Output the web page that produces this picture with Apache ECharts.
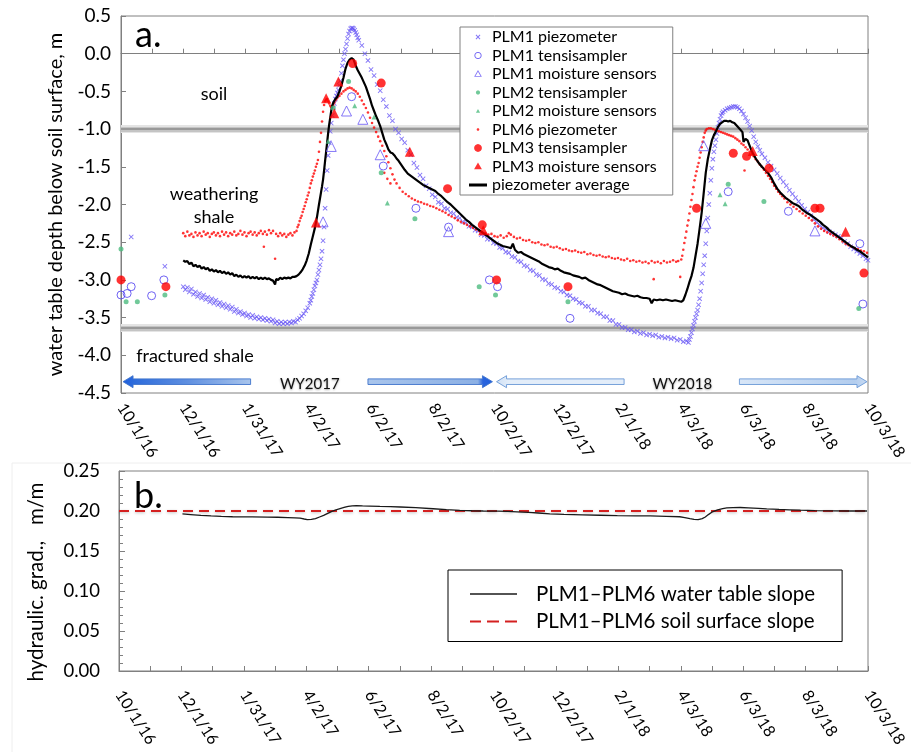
<!DOCTYPE html>
<html><head><meta charset="utf-8">
<script src="https://cdn.jsdelivr.net/npm/echarts@6/dist/echarts.min.js"></script>
<style>html,body{margin:0;padding:0;background:#fff;}#c{width:911px;height:752px;}</style>
</head><body><div id="c"></div>
<script>
// x values are days since 10/1/16
const xTickLabels = ['10/1/16','12/1/16','1/31/17','4/2/17','6/2/17','8/2/17','10/2/17','12/2/17','2/1/18','4/3/18','6/3/18','8/3/18','10/3/18'];
const layerBoundaries = [-1.0, -3.64];
const layerNames = ['soil','weathering','shale','fractured shale'];
const waterYears = ['WY2017','WY2018'];

const plm1Piezometer = [
[10,-2.43],[43,-2.82],
[61,-3.09],[63,-3.13],[65,-3.10],[67,-3.16],[69,-3.12],[71,-3.19],[73,-3.16],[75,-3.22],[77,-3.18],[79,-3.24],[81,-3.20],[83,-3.26],[85,-3.23],[87,-3.29],[89,-3.25],[91,-3.31],[93,-3.27],[95,-3.33],[97,-3.30],[99,-3.35],[101,-3.32],[103,-3.37],[105,-3.34],[107,-3.39],[109,-3.36],[111,-3.42],[113,-3.39],[115,-3.44],[117,-3.42],[119,-3.46],[121,-3.44],[123,-3.48],[125,-3.46],[127,-3.50],[129,-3.47],[131,-3.51],[133,-3.49],[135,-3.52],[137,-3.50],[139,-3.53],[141,-3.51],[143,-3.54],[145,-3.52],[147,-3.55],[149,-3.53],[151,-3.57],[153,-3.55],[155,-3.58],[157,-3.56],[159,-3.58],[161,-3.56],[163,-3.58],[165,-3.56],[167,-3.57],[169,-3.55],[171,-3.56],[173,-3.53],[175,-3.51],[177,-3.48],[179,-3.45],[181,-3.41],[183,-3.37],[185,-3.31],
[186,-3.27],[187,-3.22],[188,-3.18],[189,-3.13],[190,-3.08],[191,-3.04],[192,-3.00],[193,-2.93],[194,-2.87],[195,-2.80],[196,-2.72],[197,-2.62],[198,-2.48],[199,-2.30],[200,-2.05],[201,-1.80],[202,-1.55],[203,-1.35],[204,-1.18],[205,-1.03],[206,-0.92],[207,-0.82],[208,-0.72],[209,-0.66],[210,-0.60],[211,-0.56],[212,-0.52],[213,-0.48],[214,-0.42],[215,-0.36],[216,-0.26],[217,-0.16],[218,-0.08],[219,0.00],[220,0.06],[221,0.13],[222,0.20],[223,0.26],[224,0.30],[225,0.33],[226,0.34],[227,0.34],[228,0.33],[229,0.31],[230,0.28],[231,0.25],[232,0.21],
[233,0.18],[236,0.11],[239,0.00],[242,-0.09],[245,-0.21],[248,-0.29],[251,-0.41],[254,-0.49],[257,-0.61],[260,-0.70],[263,-0.82],[266,-0.89],[269,-1.00],[272,-1.05],[275,-1.13],[278,-1.18],[281,-1.28],[284,-1.34],[287,-1.45],[290,-1.51],[293,-1.61],[296,-1.66],[299,-1.75],[302,-1.79],[305,-1.87],[308,-1.90],[311,-1.97],[314,-1.99],[317,-2.05],[320,-2.06],[323,-2.11],[326,-2.12],[329,-2.17],[332,-2.18],[335,-2.23],[338,-2.24],[341,-2.29],[344,-2.30],[347,-2.34],[350,-2.35],[353,-2.40],[356,-2.41],[359,-2.46],[362,-2.46],[365,-2.51],[368,-2.52],[371,-2.57],[374,-2.58],[377,-2.63],[380,-2.64],[383,-2.69],[386,-2.70],[389,-2.75],[392,-2.76],[395,-2.81],[398,-2.82],[401,-2.87],[404,-2.88],[407,-2.93],[410,-2.94],[413,-2.99],[416,-3.00],[419,-3.05],[422,-3.06],[425,-3.10],[428,-3.11],[431,-3.15],[434,-3.16],[437,-3.20],[440,-3.21],[443,-3.25],[446,-3.26],[449,-3.30],[452,-3.31],[455,-3.35],[458,-3.35],[461,-3.40],[464,-3.40],[467,-3.44],[470,-3.45],[473,-3.49],[476,-3.49],[479,-3.54],[482,-3.54],[485,-3.59],[488,-3.59],[491,-3.63],[494,-3.63],[497,-3.66],[500,-3.66],[503,-3.69],[506,-3.68],[509,-3.71],[512,-3.70],[515,-3.73],[518,-3.72],[521,-3.74],[524,-3.73],[527,-3.76],[530,-3.75],[533,-3.77],[536,-3.76],[539,-3.78],[542,-3.77],[545,-3.80],[548,-3.79],[551,-3.82],[554,-3.81],[556,-3.83],
[557,-3.79],[558,-3.75],[559,-3.70],[560,-3.65],[561,-3.60],[562,-3.55],[563,-3.50],[564,-3.45],[565,-3.40],[566,-3.33],[567,-3.25],[568,-3.15],[569,-3.04],[570,-2.92],[571,-2.80],[572,-2.68],[573,-2.52],[574,-2.35],[575,-2.18],[576,-2.00],[577,-1.85],[578,-1.68],[579,-1.52],[580,-1.40],[581,-1.30],[582,-1.22],[583,-1.14],[584,-1.06],[585,-0.98],[586,-0.92],[587,-0.87],[588,-0.82],[589,-0.79],[590,-0.77],[592,-0.75],[594,-0.73],[596,-0.72],[598,-0.71],[600,-0.70],
[602,-0.70],[604,-0.71],[606,-0.73],[608,-0.76],[610,-0.80],[612,-0.85],[614,-0.90],[616,-0.96],[618,-1.02],[620,-1.10],[622,-1.17],[624,-1.23],[626,-1.28],[628,-1.33],[631,-1.38],[634,-1.44],[637,-1.49],[640,-1.54],[643,-1.59],[646,-1.65],[649,-1.70],[652,-1.75],[655,-1.81],[658,-1.86],[661,-1.91],[664,-1.96],[667,-2.01],[670,-2.06],[673,-2.10],[676,-2.15],[679,-2.20],[682,-2.24],[685,-2.28],[688,-2.31],[691,-2.33],[694,-2.36],[697,-2.38],[700,-2.40],[703,-2.42],[706,-2.44],[709,-2.49],[712,-2.52],[715,-2.56],[718,-2.59],[721,-2.62],[724,-2.65],[727,-2.68],[730,-2.72],[732,-2.74]
];

const plm6Piezometer = [
[61,-2.38],[63,-2.42],[65,-2.36],[67,-2.41],[69,-2.39],[71,-2.43],[73,-2.37],[75,-2.41],[77,-2.38],[79,-2.42],[81,-2.36],[83,-2.40],[85,-2.38],[87,-2.43],[89,-2.39],[91,-2.37],[93,-2.41],[95,-2.38],[97,-2.42],[99,-2.36],[101,-2.40],[103,-2.37],[105,-2.42],[107,-2.38],[109,-2.40],[111,-2.36],[113,-2.41],[115,-2.39],[117,-2.35],[119,-2.40],[121,-2.37],[123,-2.42],[125,-2.38],[127,-2.36],[129,-2.40],[131,-2.37],[133,-2.41],[135,-2.38],[137,-2.35],[139,-2.39],[140,-2.56],[141,-2.36],[143,-2.40],[145,-2.34],[147,-2.38],[149,-2.35],[151,-2.72],[152,-2.39],[154,-2.42],[156,-2.38],[158,-2.41],[160,-2.39],[162,-2.43],[164,-2.40],[166,-2.38],[168,-2.41],[170,-2.37],[172,-2.35],
[173,-2.30],[174,-2.27],[175,-2.22],[176,-2.18],[177,-2.15],[178,-2.10],[179,-2.06],[180,-2.02],[181,-1.97],[182,-1.93],[183,-1.88],[184,-1.84],[185,-1.78],[186,-1.72],[187,-1.68],[188,-1.63],[189,-1.59],[190,-1.55],[191,-1.50],[192,-1.46],[193,-1.41],[194,-1.30],[195,-1.17],[196,-1.05],[197,-0.90],[198,-0.77],[199,-0.68],[200,-0.63],[201,-0.61],[202,-0.60],[203,-0.63],[204,-0.66],[205,-0.69],[206,-0.71],[207,-0.70],[208,-0.68],[209,-0.65],[210,-0.62],[211,-0.60],[212,-0.58],[214,-0.56],[216,-0.53],[218,-0.50],[220,-0.48],[222,-0.46],[224,-0.45],[226,-0.46],[228,-0.48],[230,-0.50],[232,-0.53],[234,-0.57],[236,-0.62],[238,-0.67],[240,-0.72],[242,-0.78],[244,-0.85],[246,-0.92],[248,-0.98],[250,-1.04],[252,-1.10],[254,-1.16],[256,-1.22],[258,-1.29],[258,-1.58],[260,-1.36],[261,-1.66],[262,-1.44],[264,-1.52],[264,-1.72],[266,-1.60],[268,-1.67],
[270,-1.72],[273,-1.78],[276,-1.83],[279,-1.86],[282,-1.89],[285,-1.92],[288,-1.94],[291,-1.96],[294,-1.97],[297,-1.99],[300,-2.00],[303,-2.02],[306,-2.03],[309,-2.05],[312,-2.07],[315,-2.09],[318,-2.11],[321,-2.14],[324,-2.16],[327,-2.18],[330,-2.21],[333,-2.23],[336,-2.25],[339,-2.27],[342,-2.29],[345,-2.31],[348,-2.33],[351,-2.35],[354,-2.37],[357,-2.38],[360,-2.40],[363,-2.39],[366,-2.42],[369,-2.43],[372,-2.41],[375,-2.44],[378,-2.42],[380,-2.38],[382,-2.40],[385,-2.43],[388,-2.45],[391,-2.44],[394,-2.47],[397,-2.48],[400,-2.47],[403,-2.50],[406,-2.51],[409,-2.50],[412,-2.53],[415,-2.54],[418,-2.53],[421,-2.56],[424,-2.57],[427,-2.56],[430,-2.58],[433,-2.60],[436,-2.59],[439,-2.61],[442,-2.62],[445,-2.61],[448,-2.63],[451,-2.64],[454,-2.63],[457,-2.66],[460,-2.65],[463,-2.67],[466,-2.68],[469,-2.67],[472,-2.69],[475,-2.70],[478,-2.69],[481,-2.71],[484,-2.72],[487,-2.71],[490,-2.73],[493,-2.74],[496,-2.72],[499,-2.75],[502,-2.74],[505,-2.76],[508,-2.75],[511,-2.77],[514,-2.76],[517,-2.78],[520,-2.75],[522,-2.99],[523,-2.77],[526,-2.76],[529,-2.78],[532,-2.75],[535,-2.77],[538,-2.76],[541,-2.74],[544,-2.76],[546,-2.75],[548,-2.96],[549,-2.73],
[550,-2.68],[551,-2.60],[552,-2.51],[553,-2.44],[554,-2.36],[555,-2.28],[556,-2.21],[557,-2.12],[558,-2.03],[559,-1.94],[560,-1.86],[561,-1.77],[562,-1.68],[563,-1.62],[564,-1.56],[565,-1.50],[566,-1.45],[567,-1.38],[568,-1.31],[569,-1.24],[570,-1.17],[571,-1.11],[572,-1.05],[573,-1.02],[574,-1.00],[576,-0.99],[578,-0.99],[580,-1.00],[582,-1.01],[584,-1.02],[586,-1.03],[588,-1.04],[590,-1.05],[592,-1.06],[594,-1.07],[596,-1.08],[598,-1.09],[600,-1.10],[602,-1.12],[604,-1.14],[606,-1.16],[608,-1.19],[610,-1.21],[611,-1.55],[612,-1.24],[614,-1.27],[616,-1.30],[618,-1.33],[620,-1.36],[622,-1.40],[624,-1.43],[626,-1.47],[628,-1.50],[630,-1.54],[632,-1.58],[634,-1.62],[636,-1.66],[638,-1.70],[640,-1.75],[642,-1.79],[644,-1.83],[646,-1.86],[648,-1.89],[650,-1.92],[653,-1.97],[656,-2.00],[659,-2.03],[662,-2.06],[665,-2.09],[668,-2.12],[671,-2.15],[674,-2.18],[677,-2.21],[680,-2.25],[683,-2.29],[686,-2.32],[689,-2.35],[692,-2.37],[695,-2.39],[698,-2.41],[701,-2.43],[704,-2.46],[707,-2.49],[710,-2.52],[713,-2.54],[716,-2.56],[719,-2.58],[722,-2.59],[725,-2.61],[728,-2.62],[731,-2.64]
];

const piezometerAverage = [
[61,-2.74],[63,-2.76],[65,-2.75],[67,-2.79],[69,-2.77],[71,-2.82],[73,-2.80],[75,-2.83],[77,-2.81],[79,-2.85],[81,-2.83],[83,-2.86],[85,-2.84],[87,-2.88],[89,-2.86],[91,-2.89],[93,-2.87],[95,-2.90],[97,-2.88],[99,-2.91],[101,-2.89],[103,-2.92],[105,-2.90],[107,-2.93],[109,-2.91],[111,-2.95],[113,-2.93],[115,-2.96],[117,-2.94],[119,-2.97],[121,-2.95],[123,-2.97],[125,-2.95],[127,-2.98],[129,-2.96],[131,-2.98],[133,-2.96],[135,-2.99],[137,-2.97],[139,-2.99],[141,-2.97],[143,-2.99],[145,-2.98],[147,-3.00],[149,-3.01],[151,-3.06],[152,-2.99],[154,-3.00],[156,-2.97],[158,-2.99],[160,-2.97],[162,-2.98],[164,-2.97],[166,-2.98],[168,-2.96],[170,-2.96],
[172,-2.95],[174,-2.93],[176,-2.90],[178,-2.86],[180,-2.81],[182,-2.74],[184,-2.65],[186,-2.53],[188,-2.42],[190,-2.31],[192,-2.17],[194,-2.00],[196,-1.84],[197,-1.76],[198,-1.67],[199,-1.55],[200,-1.42],[201,-1.30],[202,-1.18],[203,-1.05],[204,-0.94],[205,-0.85],[206,-0.76],[207,-0.69],[208,-0.65],[210,-0.60],[212,-0.57],[214,-0.50],[216,-0.42],[218,-0.32],[220,-0.20],[222,-0.12],[224,-0.08],[226,-0.06],[228,-0.08],[230,-0.16],[232,-0.22],[234,-0.27],[236,-0.32],[238,-0.38],[240,-0.44],[242,-0.52],[244,-0.60],[246,-0.69],[248,-0.76],[250,-0.83],[252,-0.89],[254,-0.96],[256,-1.05],[258,-1.14],[260,-1.20],[262,-1.27],[264,-1.31],[266,-1.32],[268,-1.35],[270,-1.39],[272,-1.42],[274,-1.46],[276,-1.50],[278,-1.54],
[281,-1.59],[284,-1.62],[287,-1.65],[290,-1.68],[293,-1.71],[296,-1.74],[299,-1.76],[302,-1.78],[305,-1.80],[308,-1.82],[311,-1.86],[314,-1.89],[317,-1.93],[320,-1.97],[323,-2.00],[326,-2.04],[329,-2.08],[332,-2.12],[335,-2.16],[338,-2.20],[341,-2.23],[344,-2.27],[347,-2.30],[350,-2.33],[353,-2.36],[356,-2.39],[359,-2.42],[362,-2.45],[365,-2.48],[368,-2.51],
[371,-2.53],[374,-2.55],[377,-2.56],[380,-2.57],[382,-2.58],[384,-2.52],[386,-2.60],[389,-2.64],[392,-2.63],[395,-2.66],[398,-2.68],[401,-2.70],[404,-2.72],[407,-2.74],[410,-2.76],[413,-2.79],[416,-2.81],[419,-2.83],[422,-2.84],[425,-2.86],[428,-2.85],[431,-2.88],[434,-2.90],[437,-2.91],[440,-2.92],[443,-2.94],[446,-2.95],[449,-2.96],[452,-2.98],[455,-2.97],[458,-3.00],[461,-3.02],[464,-3.04],[467,-3.06],[470,-3.07],[473,-3.09],[476,-3.11],[479,-3.13],[482,-3.15],[485,-3.16],[488,-3.17],[491,-3.19],[494,-3.18],[497,-3.20],[500,-3.21],[503,-3.22],[506,-3.21],[509,-3.23],[512,-3.24],[515,-3.24],[518,-3.25],[520,-3.31],[522,-3.26],[525,-3.27],[528,-3.26],[531,-3.27],[534,-3.26],[537,-3.27],[540,-3.28],[543,-3.27],[546,-3.28],[549,-3.29],[551,-3.27],[553,-3.20],[555,-3.12],[557,-3.03],
[559,-2.95],[561,-2.84],[563,-2.68],[565,-2.52],[567,-2.32],[569,-2.11],[571,-1.85],[573,-1.58],[575,-1.40],[577,-1.27],[579,-1.15],[581,-1.08],[583,-1.03],[585,-0.97],[587,-0.93],[589,-0.91],[591,-0.89],[593,-0.89],[595,-0.90],[597,-0.89],[599,-0.91],[601,-0.92],[603,-0.95],[605,-0.98],[607,-1.01],[609,-1.04],[610,-1.17],[612,-1.13],[614,-1.15],[616,-1.22],[618,-1.29],[620,-1.34],[622,-1.39],[625,-1.45],[628,-1.50],[631,-1.54],[634,-1.58],[637,-1.64],[640,-1.72],[643,-1.79],[646,-1.84],[649,-1.88],[652,-1.92],[655,-1.95],[658,-1.98],[661,-2.00],[664,-2.02],[667,-2.06],[670,-2.09],[673,-2.12],[676,-2.14],[679,-2.17],[682,-2.20],[685,-2.23],[688,-2.27],[691,-2.30],[694,-2.34],[697,-2.37],[700,-2.40],[703,-2.43],[706,-2.46],[709,-2.49],[712,-2.52],[715,-2.55],[718,-2.57],[721,-2.60],[724,-2.62],[727,-2.65],[730,-2.68],[732,-2.70]
];

const plm1Tensisampler = [[0,-3.20],[6,-3.18],[10,-3.09],[30,-3.21],[42,-3.00],[226,-0.57],[257,-1.49],[289,-2.05],[321,-2.30],[361,-3.00],[369,-3.09],[440,-3.51],[595,-1.83],[654,-2.09],[724,-2.52],[727,-3.32]];
const plm1MoistureSensors = [[198,-2.23],[206,-1.23],[221,-0.76],[237,-0.87],[254,-1.34],[321,-2.36],[571,-1.22],[573,-2.25],[680,-2.35]];
const plm2Tensisampler = [[0,-2.59],[5,-3.29],[16,-3.29],[43,-3.20],[208,-0.72],[223,-0.37],[255,-1.58],[288,-2.19],[351,-3.09],[367,-3.20],[438,-3.29],[595,-1.73],[630,-1.96],[723,-3.38]];
const plm2MoistureSensors = [[203,-1.16],[229,-0.69],[248,-0.84],[261,-1.98],[587,-1.87],[592,-1.99]];
const plm3Tensisampler = [[0,-3.00],[44,-3.09],[227,-0.13],[255,-0.39],[320,-1.79],[354,-2.27],[368,-3.00],[438,-3.09],[564,-2.05],[600,-1.32],[613,-1.36],[635,-1.52],[680,-2.05],[685,-2.05],[728,-2.91]];
const plm3MoistureSensors = [[191,-2.24],[201,-0.59],[209,-0.79],[213,-0.37],[283,-1.30],[355,-2.34],[619,-1.29],[710,-2.36]];

const hydraulicGradient = [[62,0.1963],[70,0.1955],[80,0.1945],[90,0.1938],[100,0.1932],[111,0.1928],[120,0.1927],[130,0.1926],[145,0.1924],[155,0.1922],[165,0.1918],[172,0.1915],[177,0.1910],[181,0.1900],[184,0.1893],[188,0.1895],[192,0.1905],[196,0.1925],[200,0.1945],[204,0.1970],[208,0.1995],[212,0.2015],[216,0.2030],[220,0.2045],[224,0.2058],[228,0.2065],[232,0.2066],[238,0.2063],[245,0.2062],[255,0.2058],[265,0.2055],[275,0.2050],[290,0.2042],[307,0.2028],[320,0.2017],[333,0.2008],[345,0.2003],[356,0.2000],[370,0.1998],[380,0.1995],[389,0.1990],[400,0.1983],[410,0.1975],[421,0.1965],[435,0.1958],[453,0.1952],[470,0.1947],[487,0.1942],[505,0.1940],[519,0.1938],[535,0.1934],[548,0.1928],[553,0.1918],[558,0.1905],[562,0.1895],[566,0.1892],[570,0.1905],[573,0.1925],[576,0.1955],[580,0.1990],[585,0.2015],[590,0.2030],[594,0.2038],[600,0.2043],[607,0.2044],[615,0.2040],[625,0.2033],[633,0.2027],[645,0.2020],[655,0.2015],[666,0.2010],[680,0.2005],[698,0.2001],[715,0.2000],[731,0.2000]];
const soilSurfaceSlope = [[0,0.20],[732,0.20]];

// annotation arrows (tail day, tip day) at depth level
const arrowSpans = [[127,2],[242,364],[493,368],[606,731]];
const arrowLevel = -4.35;

const BLUE = '#6655f5', BLUE2 = '#4c3cf0', GREEN = '#4dbb80', RED = '#ff0000';
const FONT = 'Lato';

function poly(cx, cy, r, n, rev, a0) {
  const pts = [];
  for (let i = 0; i < n; i++) {
    const a = a0 + (rev ? -1 : 1) * 2 * Math.PI * i / n;
    pts.push((cx + r * Math.cos(a)).toFixed(3) + ',' + (cy + r * Math.sin(a)).toFixed(3));
  }
  return 'M' + pts.join('L') + 'Z';
}
const BOX = 'M0,0L0.01,0L0,0.01ZM20,20L20.01,20L20,20.01Z';
const iconDot = r => 'path://' + BOX + poly(10, 10, r, 16, false, 0);
const iconRing = (r, t) => 'path://' + BOX + poly(10, 10, r, 24, false, 0) + poly(10, 10, r - t, 24, true, 0);
const iconTri = r => 'path://' + BOX + poly(10, 10.8, r, 3, false, -Math.PI / 2);
const iconHollowTri = (r, t) => 'path://' + BOX + poly(10, 10.8, r, 3, false, -Math.PI / 2) + poly(10, 10.8, r - 2 * t, 3, true, -Math.PI / 2);
const iconX = 'path://' + BOX + 'M6,7.2L7.2,6L10,8.8L12.8,6L14,7.2L11.2,10L14,12.8L12.8,14L10,11.2L7.2,14L6,12.8L8.8,10Z';
const iconThickLine = 'path://M0,0L18,0L18,3L0,3Z';
const iconThinLine = 'path://M0,0L47,0L47,1.5L0,1.5Z';
const iconDashLine = 'path://M0,0L11,0L11,2L0,2ZM17,0L29,0L29,2L17,2ZM35,0L47,0L47,2L35,2Z';
const xSymbol = 'path://M0,1.3L1.3,0L5,3.7L8.7,0L10,1.3L6.3,5L10,8.7L8.7,10L5,6.3L1.3,10L0,8.7L3.7,5Z';

function xLabel(v) {
  const k = v / 61, r = Math.round(k);
  return Math.abs(k - r) < 1e-6 ? (xTickLabels[r] || '') : '';
}

const bandLines = [];
layerBoundaries.forEach(b => {
  bandLines.push({ yAxis: b, lineStyle: { color: '#e4e4e4', width: 8, type: 'solid' } });
  bandLines.push({ yAxis: b, lineStyle: { color: '#c4c4c4', width: 5, type: 'solid' } });
  bandLines.push({ yAxis: b, lineStyle: { color: '#999999', width: 2, type: 'solid' } });
});
bandLines.push({ yAxis: 0, lineStyle: { color: '#7f7f7f', width: 1, type: [5, 4] } });

const axisCommonX = (grid, margin) => ({
  type: 'value', gridIndex: grid, min: 0, max: 732, interval: 30.5,
  axisLine: { show: true, lineStyle: { color: '#808080' } },
  axisTick: { show: true, inside: true, length: 5, lineStyle: { color: '#808080' } },
  splitLine: { show: false },
  axisLabel: { formatter: xLabel, rotate: -57, margin: margin, fontSize: 16, color: '#000', fontFamily: FONT, showMinLabel: true, showMaxLabel: true, hideOverlap: false }
});

const chart = echarts.init(document.getElementById('c'), null, { renderer: 'canvas' });
const option = {
  animation: false,
  backgroundColor: '#fff',
  textStyle: { fontFamily: FONT },
  grid: [
    { left: 121, top: 16, width: 747, height: 377, show: true, borderColor: '#808080', borderWidth: 1, backgroundColor: 'transparent' },
    { left: 119, top: 471, width: 749, height: 200, show: true, borderColor: '#808080', borderWidth: 1, backgroundColor: 'transparent' }
  ],
  xAxis: [axisCommonX(0, 12), axisCommonX(1, 21)],
  yAxis: [
    {
      type: 'value', gridIndex: 0, min: -4.5, max: 0.5, interval: 0.5,
      name: 'water table depth below soil surface, m', nameLocation: 'middle', nameGap: 55, nameMoveOverlap: false,
      nameTextStyle: { fontSize: 20, color: '#000', fontFamily: FONT },
      axisLine: { show: true, lineStyle: { color: '#808080' } },
      axisTick: { show: true, inside: true, length: 5, lineStyle: { color: '#808080' } },
      splitLine: { show: false },
      axisLabel: { fontSize: 19, color: '#000', margin: 10, fontFamily: FONT, formatter: v => (Math.abs(v) < 1e-9 ? 0 : v).toFixed(1) }
    },
    {
      type: 'value', gridIndex: 1, min: 0, max: 0.25, interval: 0.05,
      name: 'hydraulic. grad.,   m/m', nameLocation: 'middle', nameGap: 72, nameMoveOverlap: false,
      nameTextStyle: { fontSize: 20.5, color: '#000', fontFamily: FONT, padding: [0, 22, 0, 0] },
      axisLine: { show: true, lineStyle: { color: '#808080' } },
      axisTick: { show: true, inside: true, length: 6, lineStyle: { color: '#808080' } },
      minorTick: { show: true, splitNumber: 5, length: 4, lineStyle: { color: '#808080' } },
      splitLine: { show: false },
      axisLabel: { fontSize: 18.5, color: '#000', margin: 19, fontFamily: FONT, formatter: v => v.toFixed(2) }
    }
  ],
  legend: [
    {
      left: 460, top: 27, orient: 'vertical', itemWidth: 18, itemHeight: 12, itemGap: 2.5,
      padding: [2, 16, 2, 9], borderColor: '#808080', borderWidth: 1, backgroundColor: '#fff', z: 20,
      selectedMode: false, symbolKeepAspect: true,
      textStyle: { fontSize: 16, color: '#000', fontFamily: FONT },
      data: [
        { name: 'PLM1 piezometer', icon: iconX, itemStyle: { color: BLUE, borderWidth: 0 } },
        { name: 'PLM1 tensisampler', icon: iconRing(6, 1.5), itemStyle: { color: BLUE2, borderWidth: 0 } },
        { name: 'PLM1 moisture sensors', icon: iconHollowTri(7.5, 1.4), itemStyle: { color: BLUE, borderWidth: 0 } },
        { name: 'PLM2 tensisampler', icon: iconDot(3.5), itemStyle: { color: GREEN, borderWidth: 0 } },
        { name: 'PLM2 moisture sensors', icon: iconTri(4), itemStyle: { color: GREEN, borderWidth: 0 } },
        { name: 'PLM6 piezometer', icon: iconDot(2.2), itemStyle: { color: RED, borderWidth: 0 } },
        { name: 'PLM3 tensisampler', icon: iconDot(6.5), itemStyle: { color: RED, borderWidth: 0 } },
        { name: 'PLM3 moisture sensors', icon: iconTri(7.5), itemStyle: { color: RED, borderWidth: 0 } },
        { name: 'piezometer average', icon: iconThickLine, itemStyle: { color: '#000', borderWidth: 0 } }
      ]
    },
    {
      left: 448, top: 570, orient: 'vertical', itemWidth: 47, itemHeight: 14, itemGap: 6.5,
      padding: [13.5, 27, 9.5, 22], borderColor: '#000', borderWidth: 1, backgroundColor: '#fff', z: 20,
      selectedMode: false, symbolKeepAspect: true,
      textStyle: { fontSize: 20.5, color: '#000', fontFamily: FONT, padding: [0, 0, 0, 14] },
      data: [
        { name: 'PLM1–PLM6 water table slope', icon: iconThinLine, itemStyle: { color: '#1a1a1a', borderWidth: 0 } },
        { name: 'PLM1–PLM6 soil surface slope', icon: iconDashLine, itemStyle: { color: '#d42020', borderWidth: 0 } }
      ]
    }
  ],
  series: [
    {
      name: 'PLM1 piezometer', type: 'scatter', xAxisIndex: 0, yAxisIndex: 0, data: plm1Piezometer,
      symbol: xSymbol, symbolSize: 5, itemStyle: { color: BLUE }, z: 2, silent: true,
      markLine: { silent: true, symbol: ['none', 'none'], label: { show: false }, z: 1, data: bandLines }
    },
    { name: 'PLM6 piezometer', type: 'scatter', xAxisIndex: 0, yAxisIndex: 0, data: plm6Piezometer, symbol: 'circle', symbolSize: 2.6, itemStyle: { color: RED }, z: 2, silent: true },
    { name: 'piezometer average', type: 'line', xAxisIndex: 0, yAxisIndex: 0, data: piezometerAverage, symbol: 'none', showSymbol: false, lineStyle: { color: '#000', width: 2.2 }, itemStyle: { color: '#000' }, z: 3, silent: true },
    { name: 'PLM1 tensisampler', type: 'scatter', xAxisIndex: 0, yAxisIndex: 0, data: plm1Tensisampler, symbol: 'circle', symbolSize: 8, itemStyle: { color: 'rgba(255,255,255,0)', borderColor: BLUE2, borderWidth: 1 }, z: 4, silent: true },
    { name: 'PLM1 moisture sensors', type: 'scatter', xAxisIndex: 0, yAxisIndex: 0, data: plm1MoistureSensors, symbol: 'triangle', symbolSize: 10, itemStyle: { color: 'rgba(255,255,255,0)', borderColor: BLUE, borderWidth: 1 }, z: 4, silent: true },
    { name: 'PLM2 tensisampler', type: 'scatter', xAxisIndex: 0, yAxisIndex: 0, data: plm2Tensisampler, symbol: 'circle', symbolSize: 5, itemStyle: { color: GREEN }, z: 4, silent: true },
    { name: 'PLM2 moisture sensors', type: 'scatter', xAxisIndex: 0, yAxisIndex: 0, data: plm2MoistureSensors, symbol: 'triangle', symbolSize: 5, itemStyle: { color: GREEN }, z: 4, silent: true },
    { name: 'PLM3 tensisampler', type: 'scatter', xAxisIndex: 0, yAxisIndex: 0, data: plm3Tensisampler, symbol: 'circle', symbolSize: 9, itemStyle: { color: RED }, z: 5, silent: true },
    { name: 'PLM3 moisture sensors', type: 'scatter', xAxisIndex: 0, yAxisIndex: 0, data: plm3MoistureSensors, symbol: 'triangle', symbolSize: 10, itemStyle: { color: RED }, z: 5, silent: true },
    { name: 'PLM1–PLM6 water table slope', type: 'line', xAxisIndex: 1, yAxisIndex: 1, data: hydraulicGradient, symbol: 'none', showSymbol: false, lineStyle: { color: '#1a1a1a', width: 1.3 }, itemStyle: { color: '#1a1a1a' }, z: 3, silent: true },
    { name: 'PLM1–PLM6 soil surface slope', type: 'line', xAxisIndex: 1, yAxisIndex: 1, data: soilSurfaceSlope, symbol: 'none', showSymbol: false, lineStyle: { color: '#d42020', width: 2, type: [10, 6], shadowColor: 'rgba(0,0,0,0.25)', shadowBlur: 3, shadowOffsetY: 1 }, itemStyle: { color: '#d42020' }, z: 2, silent: true }
  ]
};
chart.setOption(option);

// annotations
const g = [];
const arrowStyles = [
  { stops: [[0, '#1f5fdc'], [0.1, '#2f6ddc'], [0.5, '#5f8fe0'], [1, '#a9c5ec']], stroke: '#3f74cc' },
  { stops: [[0, '#a9c5ec'], [0.88, '#8cb0e4'], [0.92, '#2a64dc'], [1, '#1f5fe0']], stroke: '#3f74cc' },
  { stops: [[0, '#cfe0f5'], [0.1, '#e3edf9'], [1, '#e3edf9']], stroke: '#6a98d6' },
  { stops: [[0, '#d8e6f7'], [0.9, '#b3cdee'], [1, '#c8dbf3']], stroke: '#6a98d6' }
];
arrowSpans.forEach((s, i) => {
  const p1 = chart.convertToPixel({ xAxisIndex: 0, yAxisIndex: 0 }, [s[0], arrowLevel]);
  const p2 = chart.convertToPixel({ xAxisIndex: 0, yAxisIndex: 0 }, [s[1], arrowLevel]);
  const dir = Math.sign(p2[0] - p1[0]);
  const y = p1[1], h = 2.8, H = 6, L = 10, hx = p2[0] - dir * L;
  const st = arrowStyles[i];
  const fill = new echarts.graphic.LinearGradient(0, 0, 1, 0, st.stops.map(c => ({ offset: c[0], color: c[1] })));
  g.push({
    type: 'polygon', z: 30, silent: true,
    shape: { points: [[p1[0], y - h], [hx, y - h], [hx, y - H], [p2[0], y], [hx, y + H], [hx, y + h], [p1[0], y + h]] },
    style: { fill: fill, stroke: st.stroke, lineWidth: 0.9 }
  });
});
const txt = (text, x, y, size, align) => ({
  type: 'text', x: x, y: y, z: 31, silent: true,
  style: { text: text, fill: '#000', font: size + 'px ' + FONT, align: align || 'center', verticalAlign: 'middle' }
});
g.push(txt('a.', 135, 35, 36, 'left'));
g.push(txt('b.', 134, 496, 36, 'left'));
g.push(txt(layerNames[0], 214, 94, 18));
g.push(txt(layerNames[1], 214, 194, 18));
g.push(txt(layerNames[2], 214, 217, 18));
g.push(txt(layerNames[3], 195, 356, 18));
const wy1 = chart.convertToPixel({ xAxisIndex: 0, yAxisIndex: 0 }, [185, arrowLevel]);
const wy2 = chart.convertToPixel({ xAxisIndex: 0, yAxisIndex: 0 }, [550, arrowLevel]);
[[waterYears[0], wy1], [waterYears[1], wy2]].forEach(w => {
  g.push({
    type: 'text', x: w[1][0], y: w[1][1] + 2, z: 31, silent: true,
    style: { text: w[0], fill: '#111', font: '15px ' + FONT, align: 'center', verticalAlign: 'middle', textShadowColor: 'rgba(0,0,0,0.35)', textShadowBlur: 2, textShadowOffsetY: 1 }
  });
});
g.push({ type: 'polyline', z: 0, silent: true, shape: { points: [[12, 760], [12, 463], [911, 463]] }, style: { stroke: '#eeeeee', lineWidth: 1, fill: null } });
chart.setOption({ graphic: g });
</script>
</body></html>
